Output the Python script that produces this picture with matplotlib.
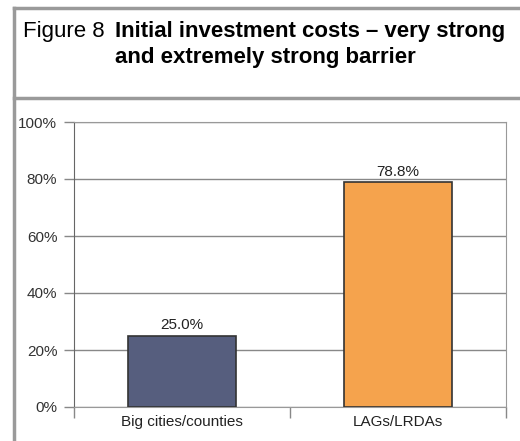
import numpy as np
import matplotlib.pyplot as plt
from matplotlib.lines import Line2D
from matplotlib.ticker import FixedLocator

categories = ['Big cities/counties', 'LAGs/LRDAs']
values = [25.0, 78.8]
colors = ['#565e7e', '#f5a34d']
yticks = [0, 20, 40, 60, 80, 100]

plt.rcParams['font.family'] = ['Liberation Sans', 'DejaVu Sans']

W, H = 520, 441
fig = plt.figure(figsize=(W / 100, H / 100), dpi=100)

# outer frame
frame_col = '#9a9a9a'
fig.add_artist(Line2D([14 / W, 14 / W], [0, 1 - 8 / H], color=frame_col, lw=2.5))
fig.add_artist(Line2D([14 / W, 1], [1 - 8 / H, 1 - 8 / H], color=frame_col, lw=2.5))
fig.add_artist(Line2D([14 / W, 1], [1 - 98 / H, 1 - 98 / H], color=frame_col, lw=2.5))

# title
fig.text(23 / W, 1 - 31 / H, 'Figure 8', fontsize=16, va='center', ha='left')
fig.text(115 / W, 1 - 31 / H, 'Initial investment costs \u2013 very strong',
         fontsize=16, fontweight='bold', va='center', ha='left')
fig.text(115 / W, 1 - 57 / H, 'and extremely strong barrier',
         fontsize=16, fontweight='bold', va='center', ha='left')

ax = fig.add_axes([74 / W, 1 - 407 / H, 432 / W, 285 / H])
x = np.arange(len(categories))
ax.bar(x, values, width=0.5, color=colors, edgecolor='#333333', linewidth=1.2, zorder=3)
for xi, v in zip(x, values):
    ax.text(xi, v + 1.2, f'{v:.1f}%', ha='center', va='bottom', fontsize=11, color='#222222')

ax.set_xlim(-0.5, 1.5)
ax.set_ylim(0, 100)
ax.set_yticks(yticks)
ax.set_yticklabels([f'{t}%' for t in yticks], fontsize=11, color='#333333')
ax.set_xticks(x)
ax.set_xticklabels(categories, fontsize=11, color='#222222')
ax.xaxis.set_minor_locator(FixedLocator([-0.5, 0.5, 1.5]))
ax.tick_params(axis='x', which='major', length=0, pad=6)
ax.tick_params(axis='x', which='minor', length=8, color='#888888', width=1)
ax.tick_params(axis='y', length=7, color='#888888', width=1, pad=5)
ax.grid(axis='y', color='#888888', lw=1, zorder=0)
for s in ['top', 'right', 'bottom']:
    ax.spines[s].set_color('#999999')
ax.spines['left'].set_color('#666666')

fig.savefig('out.png', dpi=100)
